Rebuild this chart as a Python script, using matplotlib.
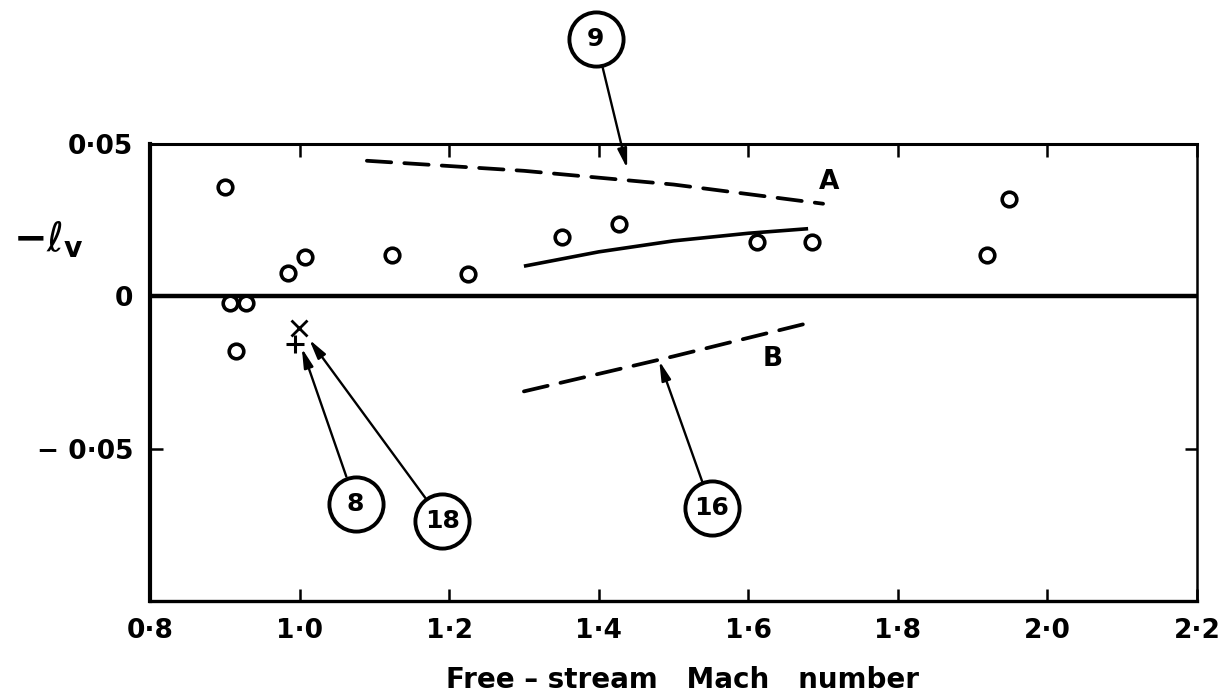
import matplotlib
matplotlib.use("Agg")
import matplotlib.pyplot as plt
import numpy as np

plt.rcParams['font.family'] = ['DejaVu Sans']

# Measured points (open circles)
mach_pts = [0.900, 0.907, 0.928, 0.915, 0.985, 1.007, 1.123, 1.225,
            1.351, 1.427, 1.611, 1.685, 1.919, 1.949]
lv_pts = [0.0358, -0.0023, -0.0023, -0.0180, 0.0076, 0.0129, 0.0136, 0.0073,
          0.0195, 0.0238, 0.0179, 0.0179, 0.0136, 0.0318]

# Single points from other references
mach_cross, lv_cross = [0.999], [-0.0105]
mach_plus, lv_plus = [0.994], [-0.0155]

# Curve A (ref. 9, dashed)
mach_a = [1.09, 1.30, 1.50, 1.70]
lv_a = [0.0445, 0.0412, 0.0367, 0.0304]

# Solid curve
mach_s = [1.30, 1.40, 1.50, 1.60, 1.68]
lv_s = [0.0099, 0.0146, 0.0182, 0.0207, 0.0222]

# Curve B (ref. 16, dashed)
mach_b = [1.30, 1.50, 1.683]
lv_b = [-0.0312, -0.0197, -0.0086]

x_ticks = [0.8, 1.0, 1.2, 1.4, 1.6, 1.8, 2.0, 2.2]
x_labels = ['0·8', '1·0', '1·2', '1·4', '1·6', '1·8', '2·0', '2·2']
y_ticks = [-0.05, 0.0, 0.05]
y_labels = ['− 0·05', '0', '0·05']

W, H = 1227, 698
fig = plt.figure(figsize=(W / 100, H / 100), dpi=100)
ax = fig.add_axes([150 / W, 97 / H, 1047 / W, 457 / H])
ax.set_xlim(0.8, 2.2)
ax.set_ylim(-0.1, 0.05)

ax.axhline(0, color='k', lw=3.2, zorder=2)

ax.plot(mach_pts, lv_pts, 'o', ms=10.5, mfc='white', mec='k', mew=2.6, zorder=4)
ax.plot(mach_cross, lv_cross, 'x', ms=11, mec='k', mew=2.0, zorder=4)
ax.plot(mach_plus, lv_plus, '+', ms=13, mec='k', mew=2.2, zorder=4)

ax.plot(mach_a, lv_a, color='k', lw=2.7, dashes=(6.5, 3.5), dash_capstyle='round')
ax.plot(mach_s, lv_s, color='k', lw=2.6, solid_capstyle='butt')
ax.plot(mach_b, lv_b, color='k', lw=2.7, dashes=(6.5, 3.5), dash_capstyle='round')

ax.text(1.708, 0.0375, 'A', fontsize=19, fontweight='bold', ha='center', va='center')
ax.text(1.633, -0.0205, 'B', fontsize=19, fontweight='bold', ha='center', va='center')

ring_pt = 39.0  # ring diameter in points
arrow = dict(arrowstyle='-|>,head_length=1.15,head_width=0.28', lw=1.7,
             color='k', shrinkA=ring_pt / 2 + 1, shrinkB=0)


def tag(num, tip, center):
    ax.plot([center[0]], [center[1]], 'o', ms=ring_pt, mfc='white', mec='k',
            mew=2.8, zorder=5, clip_on=False)
    ax.text(center[0], center[1], num, fontsize=18, fontweight='bold',
            ha='center', va='center', zorder=6)
    ax.annotate('', xy=tip, xytext=center, arrowprops=arrow,
                annotation_clip=False, zorder=3)


tag('9', (1.438, 0.0420), (1.396, 0.0845))
tag('16', (1.481, -0.0212), (1.551, -0.0695))
tag('8', (1.003, -0.0170), (1.075, -0.0680))
tag('18', (1.013, -0.0142), (1.191, -0.0738))

ax.set_xticks(x_ticks)
ax.set_xticklabels(x_labels, fontweight='bold')
ax.set_yticks(y_ticks)
ax.set_yticklabels(y_labels, fontweight='bold')
ax.tick_params(axis='both', direction='in', length=9, width=1.8,
               labelsize=19, top=True, right=True, color='k')
ax.tick_params(axis='x', pad=12)
ax.tick_params(axis='y', pad=12)

ax.spines['left'].set_linewidth(3.0)
ax.spines['bottom'].set_linewidth(2.4)
ax.spines['top'].set_linewidth(2.2)
ax.spines['right'].set_linewidth(1.8)

fig.text(682 / W, 1 - 680 / H, 'Free – stream   Mach   number', fontsize=20,
         fontweight='bold', ha='center', va='center')
fig.text(48 / W, 1 - 240 / H, r'$\mathbf{-}\ell_{\mathbf{v}}$', fontsize=29,
         ha='center', va='center')

fig.savefig('out.png', dpi=100)
